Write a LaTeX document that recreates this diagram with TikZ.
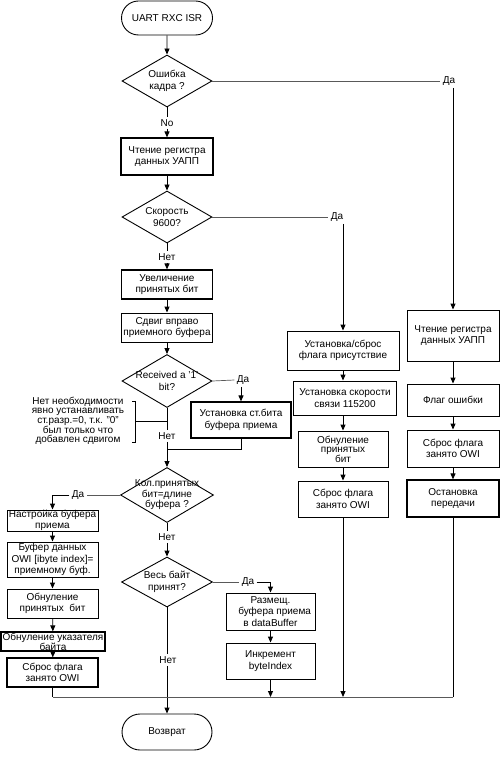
\documentclass[tikz,border=0pt]{standalone}
\usepackage{fontspec}
\setmainfont{Liberation Sans}
\usetikzlibrary{arrows.meta,shapes.geometric,shapes.misc}

\begin{document}
\begin{tikzpicture}[x=1pt,y=-1pt,
	font=\fontsize{10}{11.5}\selectfont,
	line width=0.9pt,
	>={Triangle[length=6pt,width=5pt]},
	term/.style={draw,rounded rectangle,minimum width=91pt,minimum height=34pt,inner sep=0pt},
	decision/.style={draw,diamond,minimum width=90pt,minimum height=52pt,inner sep=0pt},
	dtext/.style={align=center,inner sep=0pt},
	box/.style={draw,rectangle,align=center,inner sep=0pt},
	heavy/.style={line width=1.2pt},
	answer/.style={inner sep=2pt},
	hline/.style={line width=0.7pt,black!65}]
	\useasboundingbox (0,0) rectangle (500,770);

	%Main column
	\node[term] (start) at (167,18) {UART RXC ISR};
	\node[decision] (err) at (167,81) {};
	\node[dtext] (errt) at (err) {Ошибка\\кадра ?};
	\node[answer] (lno) at (167,123) {No};
	\node[box,heavy,minimum width=92pt,minimum height=37pt] (rd) at (167,156.5) {Чтение регистра\\данных УАПП};
	\node[decision] (spd) at (167,217) {};
	\node[dtext] (spdt) at (spd) {Скорость\\9600?};
	\node[answer] (lnet1) at (167,257) {Нет};
	\node[box,heavy,minimum width=91pt,minimum height=29pt] (inc) at (167,284.5) {Увеличение\\принятых бит};
	\node[box,minimum width=91pt,minimum height=29pt] (shr) at (167,327.5) {Сдвиг вправо\\приемного буфера};
	\node[decision,minimum height=53pt] (one) at (167,381) {};
	\node[dtext] (onet) at (one) {Received a '1'\\bit?};
	\node[answer] (lnet2) at (167,436) {Нет};
	\node[decision,minimum width=93pt,minimum height=55pt] (cnt) at (167,495) {};
	\node[dtext,font=\fontsize{10}{10.5}\selectfont] (cntt) at (cnt) {Кол.принятых\\бит=длине\\буфера ?};
	\node[answer] (lnet3) at (167,537) {Нет};
	\node[decision,minimum width=91pt,minimum height=50pt] (full) at (167,582) {};
	\node[dtext] (fullt) at (full) {Весь байт\\принят?};
	\node[answer] (lnet4) at (168,660) {Нет};
	\node[term,minimum width=90pt,minimum height=36pt] (ret) at (167,732) {Возврат};

	%Set bit and note
	\node[answer] (lda3) at (243,380) {Да};
	\node[box,heavy,minimum width=100pt,minimum height=36pt] (setb) at (241,420) {Установка ст.бита\\буфера приема};
	\coordinate (join) at (167,449);
	\node[align=center,inner sep=0pt,font=\fontsize{10}{8.5}\selectfont] (note) at (78,421)
		{Нет необходимости\\явно устанавливать\\ст.разр.=0, т.к. "0"\\был только что\\добавлен сдвигом};
	\coordinate (brk) at (135,421);
	\coordinate (stem) at (167,421);

	%Left column
	\node[answer] (lda4) at (78,495) {Да};
	\node[box,minimum width=91pt,minimum height=21pt,font=\fontsize{10}{11}\selectfont] (cfg) at (52.5,520.5) {Настройка буфера\\приема};
	\node[box,minimum width=91pt,minimum height=35pt] (copy) at (52.5,559.5) {Буфер данных\\OWI [ibyte index]=\\приемному буф.};
	\node[box,minimum width=91pt,minimum height=29pt] (clrb) at (52.5,603.5) {Обнуление\\принятых~ бит};
	\node[box,heavy,minimum width=104pt,minimum height=19pt,font=\fontsize{10}{10}\selectfont] (clri) at (53,641.5) {Обнуление указателя\\байта};
	\node[box,heavy,minimum width=91pt,minimum height=29pt] (busy1) at (52.5,672.5) {Сброс флага\\занято OWI};

	%Byte column
	\node[answer] (lda5) at (248,582) {Да};
	\node[box,minimum width=89pt,minimum height=37pt] (put) at (270.5,611.5) {Размещ.\\~~~буфера приема\\в dataBuffer};
	\node[box,minimum width=89pt,minimum height=36pt] (idx) at (270.5,661) {Инкремент\\byteIndex};

	%Speed column
	\node[answer] (lda2) at (337,217) {Да};
	\node[box,minimum width=112pt,minimum height=39pt] (pres) at (343,350.5) {Установка/сброс\\флага присутствие};
	\node[box,minimum width=103pt,minimum height=34pt] (baud) at (345,398) {Установка скорости\\связи 115200};
	\node[box,minimum width=90pt,minimum height=36pt,font=\fontsize{10}{9.5}\selectfont] (clrs) at (343,449) {Обнуление\\принятых\\бит};
	\node[box,minimum width=90pt,minimum height=36pt] (busy2) at (343,499) {Сброс флага\\занято OWI};

	%Error column
	\node[answer] (lda1) at (449,81) {Да};
	\node[box,minimum width=92pt,minimum height=51pt] (rd2) at (453,335.5) {Чтение регистра\\данных УАПП};
	\node[box,minimum width=92pt,minimum height=32pt] (flag) at (453,400) {Флаг ошибки};
	\node[box,minimum width=92pt,minimum height=37pt] (busy3) at (453,448.5) {Сброс флага\\занято OWI};
	\node[box,heavy,minimum width=92pt,minimum height=37pt] (stop) at (453,498.5) {Остановка\\передачи};

	\coordinate (mergeL) at (52.5,697);
	\coordinate (mergeR) at (453,697);

	%Connectors
	\draw[->] (start) -- (err);
	\draw (err.south) -- (lno.north);
	\draw[->] (lno.south) -- (rd.north);
	\draw[->] (rd) -- (spd);
	\draw (spd.south) -- (lnet1.north);
	\draw[->] (lnet1.south) -- (inc.north);
	\draw[->] (inc) -- (shr);
	\draw[->] (shr) -- (one);
	\draw[hline] (one.east) -- (lda3.west);
	\draw[->] (lda3.south -| setb.north) -- (setb.north);
	\draw (one.south) -- (lnet2.north);
	\draw (lnet2.south) -- (join);
	\draw (setb.south) |- (join);
	\draw[->] (join) -- (cnt.north);
	\draw (135,401) -- (132,401) (135,401) -- (135,442) -- (132,442);
	\draw (brk) -- (stem);
	\draw[hline] (cnt.west) -- (lda4.east);
	\draw[->] (lda4.west) -| (cfg.north);
	\draw[->] (cfg) -- (copy);
	\draw[->] (copy) -- (clrb);
	\draw[->] (clrb) -- (clri);
	\draw[->] (clri) -- (busy1);
	\draw (cnt.south) -- (lnet3.north);
	\draw[->] (lnet3.south) -- (full.north);
	\draw[hline] (full.east) -- (lda5.west);
	\draw[->] (lda5.east) -| (put.north);
	\draw[->] (put) -- (idx);
	\draw (full.south) -- (lnet4.north -| full.south);
	\draw[->] (lnet4.south -| ret.north) -- (ret.north);
	\draw[hline] (spd.east) -- (lda2.west);
	\draw[->] (lda2.south -| pres.north) -- (pres.north);
	\draw[->] (pres.south) -- (pres.south |- baud.north);
	\draw[->] (baud.south -| clrs.north) -- (clrs.north);
	\draw[->] (clrs) -- (busy2);
	\draw[hline] (err.east) -- (lda1.west);
	\draw[->] (lda1.south -| rd2.north) -- (rd2.north);
	\draw[->] (rd2) -- (flag);
	\draw[->] (flag) -- (busy3);
	\draw[->] (busy3) -- (stop);
	\draw (busy1.south) -- (mergeL);
	\draw[hline] (mergeL) -- (mergeR);
	\draw (mergeR) -- (stop.south);
	\draw[->] (idx.south) -- (idx.south |- mergeL);
	\draw[->] (busy2.south) -- (busy2.south |- mergeL);
\end{tikzpicture}
\end{document}
